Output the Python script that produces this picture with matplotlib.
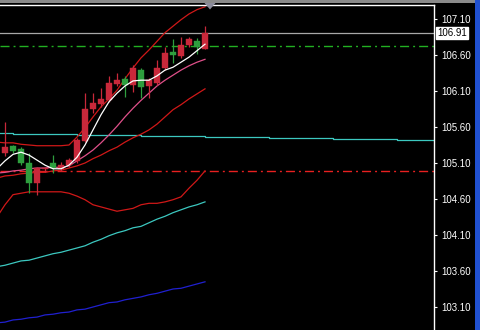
import numpy as np
import matplotlib
matplotlib.use('Agg')
import matplotlib.pyplot as plt
from matplotlib.patches import Rectangle, Polygon
from matplotlib.transforms import blended_transform_factory, IdentityTransform

plt.rcParams['lines.scale_dashes'] = False

# ---- candles (bar 0 .. 25) ----
opens  = [105.24, 105.34, 105.29, 105.10, 104.82, 105.01, 105.10, 105.02, 105.07, 105.13,
          105.41, 105.85, 105.92, 105.97, 106.20, 106.27, 106.18, 106.39, 106.17, 106.21,
          106.42, 106.64, 106.59, 106.74, 106.79, 106.68]
highs  = [105.67, 105.35, 105.32, 105.24, 105.04, 105.04, 105.21, 105.11, 105.17, 105.45,
          106.07, 106.07, 106.14, 106.31, 106.35, 106.31, 106.46, 106.42, 106.28, 106.53,
          106.71, 106.82, 106.85, 106.85, 106.84, 107.00]
lows   = [105.20, 105.24, 105.07, 104.68, 104.66, 104.97, 104.96, 104.99, 105.04, 105.10,
          105.39, 105.79, 105.88, 105.95, 106.17, 106.02, 106.09, 106.00, 106.00, 106.18,
          106.39, 106.49, 106.56, 106.71, 106.61, 106.68]
closes = [105.32, 105.27, 105.10, 104.82, 105.03, 105.03, 105.03, 105.07, 105.14, 105.42,
          105.85, 105.93, 105.99, 106.21, 106.25, 106.18, 106.42, 106.16, 106.25, 106.42,
          106.63, 106.60, 106.74, 106.82, 106.71, 106.91]

# ---- indicator lines (bar -1 .. 25) ----
fast_ma  = [105.02, 105.13, 105.22, 105.25, 105.21, 105.14, 105.07, 105.02, 105.02, 105.07,
            105.18, 105.35, 105.56, 105.77, 105.95, 106.07, 106.17, 106.24, 106.25, 106.25,
            106.31, 106.39, 106.43, 106.50, 106.57, 106.66, 106.75]
slow_ma  = [104.96, 104.97, 104.99, 105.00, 105.02, 105.03, 105.03, 105.04, 105.04, 105.06,
            105.13, 105.20, 105.28, 105.38, 105.49, 105.61, 105.74, 105.86, 105.97, 106.07,
            106.17, 106.25, 106.32, 106.39, 106.45, 106.50, 106.54]
bb_upper = [105.39, 105.38, 105.38, 105.36, 105.35, 105.34, 105.34, 105.34, 105.34, 105.35,
            105.46, 105.59, 105.74, 105.88, 105.99, 106.11, 106.27, 106.42, 106.56, 106.67,
            106.79, 106.91, 107.00, 107.09, 107.17, 107.23, 107.27]
bb_mid   = [104.89, 104.92, 104.93, 104.95, 104.96, 104.97, 104.97, 104.99, 105.00, 105.03,
            105.06, 105.10, 105.16, 105.21, 105.27, 105.32, 105.39, 105.45, 105.50, 105.56,
            105.64, 105.74, 105.84, 105.91, 105.99, 106.06, 106.13]
bb_lower = [104.35, 104.52, 104.66, 104.68, 104.70, 104.70, 104.70, 104.70, 104.70, 104.68,
            104.64, 104.59, 104.52, 104.49, 104.46, 104.43, 104.45, 104.47, 104.52, 104.54,
            104.54, 104.56, 104.59, 104.63, 104.75, 104.86, 104.99]
ma_cyan  = [103.66, 103.68, 103.71, 103.74, 103.75, 103.78, 103.81, 103.84, 103.86, 103.89,
            103.92, 103.95, 104.00, 104.04, 104.09, 104.13, 104.16, 104.20, 104.22, 104.27,
            104.32, 104.36, 104.41, 104.45, 104.49, 104.52, 104.56]
ma_blue  = [102.88, 102.89, 102.92, 102.93, 102.95, 102.96, 102.99, 103.00, 103.02, 103.03,
            103.06, 103.07, 103.10, 103.13, 103.16, 103.17, 103.20, 103.22, 103.24, 103.27,
            103.29, 103.32, 103.35, 103.36, 103.39, 103.42, 103.45]

# shifted step line (extends into the future)
cyan_step_bars = [-1, 1, 9, 17, 25, 33, 41, 49, 54]
cyan_step_vals = [105.517, 105.503, 105.489, 105.475, 105.461, 105.447, 105.433, 105.419, 105.419]

price_now = 106.91
level_green = 106.72
level_red = 104.99
tick_vals = [103.10, 103.60, 104.10, 104.60, 105.10, 105.60, 106.10, 106.60, 107.10]
tick_labels = ['103.10', '103.60', '104.10', '104.60', '105.10', '105.60', '106.10', '106.60', '107.10']

# ---- figure ----
W, H = 480, 330
fig = plt.figure(figsize=(W / 100, H / 100), dpi=100, facecolor='black')
ax = fig.add_axes([0, 0, 434 / W, (H - 4.5) / H], facecolor='black')

bars = np.arange(len(opens))
lbars = np.arange(-1, len(fast_ma) - 1)

# horizontal levels
ax.axhline(price_now, color='#a8a8a8', lw=0.9, zorder=1)
ax.axhline(level_green, color='#22b022', lw=1.0, ls=(0, (6.5, 2.9, 1.4, 2.9)), zorder=1)
ax.axhline(level_red, color='#e82020', lw=1.0, ls=(0, (6.5, 2.9, 1.4, 2.9)), zorder=1)

# lines
ax.step(cyan_step_bars, cyan_step_vals, where='post', color='#3cc8c0', lw=0.9, zorder=2)
ax.plot(lbars, ma_cyan, color='#3cc8c0', lw=0.9, zorder=2)
ax.plot(lbars, ma_blue, color='#2020d0', lw=0.9, zorder=2)
ax.plot(lbars, bb_upper, color='#d01818', lw=0.9, zorder=2)
ax.plot(lbars, bb_mid, color='#d01818', lw=0.9, zorder=2)
ax.plot(lbars, bb_lower, color='#d01818', lw=0.9, zorder=2)
ax.plot(lbars, slow_ma, color='#e0508a', lw=0.9, zorder=2)

# candles
red, green = '#c8283a', '#2e9e3e'
for i in bars:
    o, h, l, c = opens[i], highs[i], lows[i], closes[i]
    col = red if c >= o else green
    ax.vlines(i, l, h, color=col, lw=0.9, zorder=3)
    lo, hi = min(o, c), max(o, c)
    ax.bar(i, max(hi - lo, 0.012), bottom=lo, width=0.7, color=col,
           edgecolor=col, linewidth=0.3, zorder=4)

ax.plot(lbars, fast_ma, color='#ffffff', lw=0.9, zorder=5)

ax.set_xlim(-0.625, 53.625)
ax.set_ylim(107.10 - (330 - 19) / 72, 107.10 + (19 - 4.5) / 72)

# spines / ticks
for s in ['left', 'bottom']:
    ax.spines[s].set_visible(False)
for s in ['top', 'right']:
    ax.spines[s].set_color('white')
    ax.spines[s].set_linewidth(1.0)
ax.set_xticks([])
ax.yaxis.tick_right()
ax.set_yticks(tick_vals)
ax.set_yticklabels(tick_labels)
ax.tick_params(axis='y', colors='white', length=2.5, width=0.8, pad=2.5,
               labelsize=7)
for t in ax.get_yticklabels():
    t.set_family('Liberation Sans')
    t.set_color('white')

# current price label box
trans = blended_transform_factory(ax.transAxes, ax.transData)
ax.text(1.0 + 3.5 / 434, price_now, '106.91', transform=trans, ha='left', va='center',
        fontsize=7, family='Liberation Sans', color='black', clip_on=False, zorder=10,
        bbox=dict(boxstyle='square,pad=0.12', facecolor='white', edgecolor='white'))

# top strip, right blue strip, shift marker
fig.add_artist(Rectangle((0, 1 - 3 / H), 1, 3 / H, transform=fig.transFigure,
                         facecolor='#8a8a8a', edgecolor='none'))
fig.add_artist(Rectangle((475 / W, 0), 5 / W, 1, transform=fig.transFigure,
                         facecolor='#2050d0', edgecolor='none'))
fig.add_artist(Polygon([(204.5, H - 3.0), (215.5, H - 3.0), (210, H - 9.5)], closed=True,
                       transform=IdentityTransform(), facecolor='#8c8c9c', edgecolor='none',
                       zorder=20))

fig.savefig('out.png', dpi=100, facecolor='black')
